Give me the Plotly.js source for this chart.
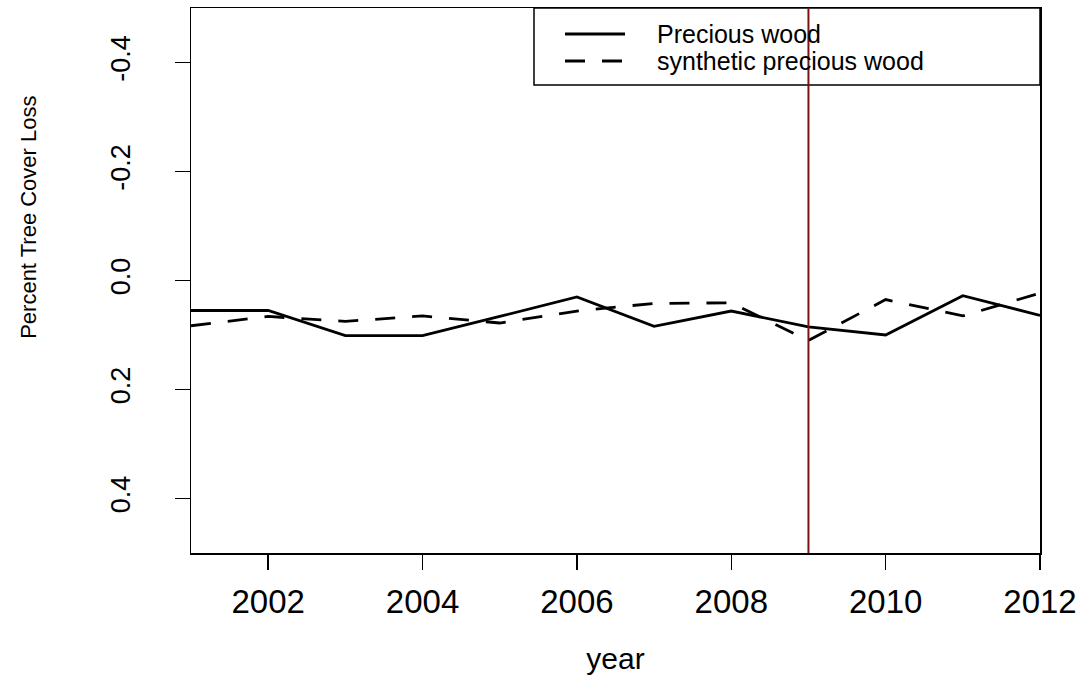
<!DOCTYPE html>
<html>
<head>
<meta charset="utf-8">
<script src="https://cdn.plot.ly/plotly-3.0.1.min.js"></script>
<style>html,body{margin:0;padding:0;background:#fff;}#chart{width:1087px;height:675px;}</style>
</head>
<body>
<div id="chart"></div>
<script>
const years = [2001, 2002, 2003, 2004, 2005, 2006, 2007, 2008, 2009, 2010, 2011, 2012];
const preciousWood = [0.055, 0.055, 0.101, 0.101, 0.066, 0.030, 0.084, 0.056, 0.085, 0.100, 0.028, 0.064];
const syntheticPreciousWood = [0.083, 0.066, 0.075, 0.065, 0.078, 0.056, 0.042, 0.041, 0.110, 0.035, 0.065, 0.023];
const seriesNames = ['Precious wood', 'synthetic precious wood'];
const treatmentYear = 2009;
const xTicks = [2002, 2004, 2006, 2008, 2010, 2012];
const yTicks = [-0.4, -0.2, 0.0, 0.2, 0.4];
const yTickText = ['-0.4', '-0.2', '0.0', '0.2', '0.4'];
const yTitle = 'Percent Tree Cover Loss';

const FONT = 'Liberation Sans, Arial, sans-serif';

const traces = [
  {x: years, y: preciousWood, name: seriesNames[0], type: 'scatter', mode: 'lines',
   line: {color: '#000', width: 2.8}, showlegend: false},
  {x: years, y: syntheticPreciousWood, name: seriesNames[1], type: 'scatter', mode: 'lines',
   line: {color: '#000', width: 2.8, dash: '20px,17px'}, showlegend: false}
];

const lx0 = (534-191)/849, ly0 = (553-85)/545;
const row1 = (553-34)/545, row2 = (553-61)/545;
const sx0 = (565-191)/849, sx1 = (625-191)/849, tx = (655-191)/849;

const layout = {
  width: 1087, height: 675,
  margin: {l: 191, r: 47, t: 8, b: 122},
  paper_bgcolor: '#fff', plot_bgcolor: '#fff',
  font: {family: FONT, color: '#000'},
  xaxis: {
    range: [2001, 2012], tickvals: xTicks, ticktext: xTicks.map(String),
    ticks: 'outside', ticklen: 15, tickwidth: 1.5, tickcolor: '#000',
    showline: true, linecolor: '#000', linewidth: 1.5, mirror: true,
    showgrid: false, zeroline: false,
    tickfont: {size: 33, family: FONT}, ticklabelstandoff: 4,
    title: {text: 'year', font: {size: 30, family: FONT}, standoff: 40}
  },
  yaxis: {
    range: [0.5, -0.5], tickvals: yTicks, ticktext: yTickText,
    ticks: 'outside', ticklen: 15, tickwidth: 1.5, tickcolor: '#000',
    showline: true, linecolor: '#000', linewidth: 1.5, mirror: true,
    showgrid: false, zeroline: false, tickangle: -90,
    tickfont: {size: 27, family: FONT}, ticklabelstandoff: 34
  },
  shapes: [
    {type: 'line', xref: 'x', yref: 'paper', x0: treatmentYear, x1: treatmentYear, y0: 0, y1: 1,
     line: {color: '#7a1414', width: 2}},
    {type: 'rect', xref: 'paper', yref: 'paper', x0: lx0, x1: 1, y0: ly0, y1: 1,
     line: {color: '#000', width: 1.5}, fillcolor: 'rgba(0,0,0,0)', layer: 'below'},
    {type: 'line', xref: 'paper', yref: 'paper', x0: sx0, x1: sx1, y0: row1, y1: row1,
     line: {color: '#000', width: 2.8}},
    {type: 'line', xref: 'paper', yref: 'paper', x0: sx0, x1: sx1, y0: row2, y1: row2,
     line: {color: '#000', width: 2.8, dash: '20px,17px'}}
  ],
  annotations: [
    {xref: 'paper', yref: 'paper', x: tx, y: row1, xanchor: 'left', yanchor: 'middle',
     text: seriesNames[0], showarrow: false, font: {size: 25, family: FONT}},
    {xref: 'paper', yref: 'paper', x: tx, y: row2, xanchor: 'left', yanchor: 'middle',
     text: seriesNames[1], showarrow: false, font: {size: 25, family: FONT}},
    {xref: 'paper', yref: 'paper', x: -0.191, y: (553-217)/545, xanchor: 'center', yanchor: 'middle',
     text: yTitle, textangle: -90, showarrow: false, font: {size: 22, family: FONT}}
  ]
};

Plotly.newPlot('chart', traces, layout, {displayModeBar: false, staticPlot: true});
</script>
</body>
</html>
